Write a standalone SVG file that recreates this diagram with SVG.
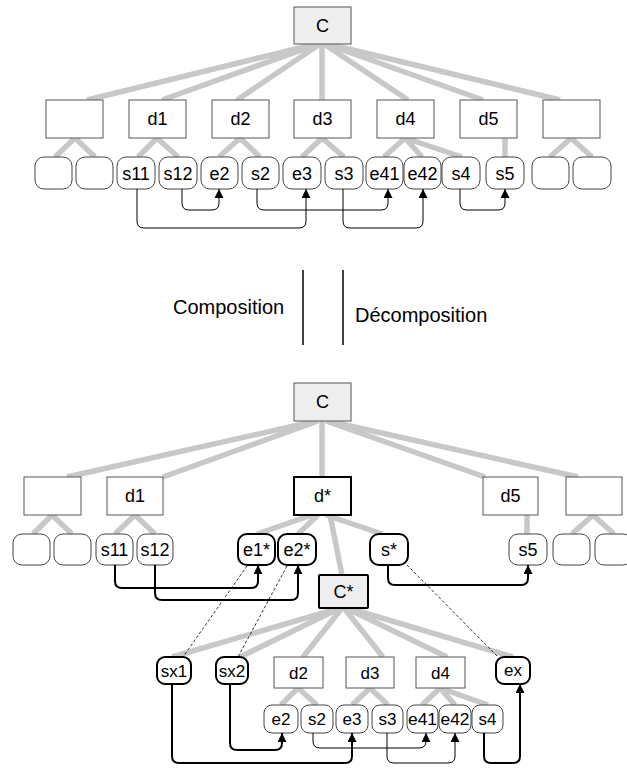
<svg xmlns="http://www.w3.org/2000/svg" width="627" height="768" viewBox="0 0 627 768">
<style>
.bg{fill:#ffffff}
.tree{stroke:#c8c8c8;stroke-width:5.5;fill:none;stroke-linecap:butt}
.box{fill:#ffffff;stroke:#555555;stroke-width:1}
.boxc{fill:#eeeeee;stroke:#555555;stroke-width:1}
.boxt{fill:#ffffff;stroke:#000000;stroke-width:2}
.boxct{fill:#eeeeee;stroke:#000000;stroke-width:2}
.port{fill:#ffffff;stroke:#444444;stroke-width:1}
.portt{fill:#ffffff;stroke:#000000;stroke-width:2}
.t{font-family:"Liberation Sans",Arial,sans-serif;font-size:18px;fill:#000;text-anchor:middle}
.ts{font-family:"Liberation Sans",Arial,sans-serif;font-size:17px;fill:#000;text-anchor:middle}
.lbl{font-family:"Liberation Sans",Arial,sans-serif;font-size:20px;fill:#000}
.c1{fill:none;stroke:#000;stroke-width:1}
.c2{fill:none;stroke:#000;stroke-width:2}
.dash{fill:none;stroke:#000;stroke-width:0.8;stroke-dasharray:3,2}
.sep{stroke:#000;stroke-width:1.5}
</style>
<defs>
<marker id="ah" markerWidth="9" markerHeight="10" refX="9" refY="4.5" orient="auto" markerUnits="userSpaceOnUse"><path d="M0,0 L9,4.5 L0,9 z" fill="#000"/></marker>
</defs>
<rect class="bg" x="0" y="0" width="627" height="768"/>

<!-- tree edges -->
<g id="tree-edges">
<path class="tree" d="M316,44 L87,100 M318,44 L162,100 M320,44 L237,100 M322,44 L322,100 M324,44 L408,100 M326,44 L483,100 M328,44 L560,100"/>
<path class="tree" d="M75,138 L55,157 M75,138 L95,157 M157,138 L138,157 M157,138 L178,157 M240,138 L219,157 M240,138 L260,157 M322,138 L302,157 M322,138 L344,157 M405,138 L384,157 M405,138 L422,157 M405,138 L462,157 M505,138 L505,157 M571,138 L550,157 M571,138 L592,157"/>
<path class="tree" d="M316,421 L67,477 M318,421 L163,477 M322,421 L322,477 M326,421 L485,477 M328,421 L578,477"/>
<path class="tree" d="M52,515 L33,534 M52,515 L72,534 M135,515 L115,534 M135,515 L155,534 M312,515 L257,534 M318,515 L298,534 M326,515 L382,534 M330,515 L342,575 M527,515 L527,534 M593,515 L572,534 M593,515 L614,534"/>
<path class="tree" d="M340,608 L172,657 M340,608 L240,657 M342,608 L303,657 M344,608 L383,657 M346,608 L447,657 M348,608 L513,657"/>
<path class="tree" d="M298,688 L281,705 M298,688 L317,705 M370,688 L352,705 M370,688 L388,705 M440,688 L422,705 M440,688 L455,705 M440,688 L488,705"/>
</g>

<!-- top diagram nodes -->
<g id="C-top"><rect class="boxc" x="294" y="7" width="57" height="37"/><text class="t" x="322.5" y="32">C</text></g>
<g id="b0-top"><rect class="box" x="46" y="100" width="57" height="38"/></g>
<g id="d1-top"><rect class="box" x="129" y="100" width="57" height="38"/><text class="t" x="157.5" y="125">d1</text></g>
<g id="d2-top"><rect class="box" x="212" y="100" width="57" height="38"/><text class="t" x="240.5" y="125">d2</text></g>
<g id="d3-top"><rect class="box" x="294" y="100" width="57" height="38"/><text class="t" x="322.5" y="125">d3</text></g>
<g id="d4-top"><rect class="box" x="377" y="100" width="57" height="38"/><text class="t" x="405.5" y="125">d4</text></g>
<g id="d5-top"><rect class="box" x="460" y="100" width="57" height="38"/><text class="t" x="488.5" y="125">d5</text></g>
<g id="b6-top"><rect class="box" x="543" y="100" width="57" height="38"/></g>

<g id="p0-top"><rect class="port" x="35" y="157" width="37" height="32" rx="9"/></g>
<g id="p1-top"><rect class="port" x="76" y="157" width="37" height="32" rx="9"/></g>
<g id="s11-top"><rect class="port" x="117" y="157" width="38" height="32" rx="9"/><text class="t" x="136" y="179.5">s11</text></g>
<g id="s12-top"><rect class="port" x="159" y="157" width="38" height="32" rx="9"/><text class="t" x="178" y="179.5">s12</text></g>
<g id="e2-top"><rect class="port" x="201" y="157" width="37" height="32" rx="9"/><text class="t" x="219.5" y="179.5">e2</text></g>
<g id="s2-top"><rect class="port" x="242" y="157" width="37" height="32" rx="9"/><text class="t" x="260.5" y="179.5">s2</text></g>
<g id="e3-top"><rect class="port" x="283" y="157" width="38" height="32" rx="9"/><text class="t" x="302" y="179.5">e3</text></g>
<g id="s3-top"><rect class="port" x="325" y="157" width="38" height="32" rx="9"/><text class="t" x="344" y="179.5">s3</text></g>
<g id="e41-top"><rect class="port" x="366" y="157" width="37" height="32" rx="9"/><text class="t" x="384.5" y="179.5">e41</text></g>
<g id="e42-top"><rect class="port" x="404" y="157" width="37" height="32" rx="9"/><text class="t" x="422.5" y="179.5">e42</text></g>
<g id="s4-top"><rect class="port" x="442" y="157" width="38" height="32" rx="9"/><text class="t" x="461" y="179.5">s4</text></g>
<g id="s5-top"><rect class="port" x="486" y="157" width="38" height="32" rx="9"/><text class="t" x="505" y="179.5">s5</text></g>
<g id="p12-top"><rect class="port" x="532" y="157" width="37" height="32" rx="9"/></g>
<g id="p13-top"><rect class="port" x="573" y="157" width="38" height="32" rx="9"/></g>

<!-- middle labels -->
<g id="labels">
<text class="lbl" x="173" y="314">Composition</text>
<text class="lbl" x="355" y="322">Décomposition</text>
<line class="sep" x1="303" y1="270" x2="303" y2="345"/>
<line class="sep" x1="343" y1="270" x2="343" y2="345"/>
</g>

<!-- bottom diagram nodes -->
<g id="C-bot"><rect class="boxc" x="294" y="383" width="57" height="38"/><text class="t" x="322.5" y="408">C</text></g>
<g id="b0-bot"><rect class="box" x="24" y="477" width="57" height="38"/></g>
<g id="d1-bot"><rect class="box" x="107" y="477" width="56" height="38"/><text class="t" x="135" y="502">d1</text></g>
<g id="dstar"><rect class="boxt" x="294" y="477" width="57" height="38"/><text class="t" x="322.5" y="502">d*</text></g>
<g id="d5-bot"><rect class="box" x="483" y="477" width="55" height="38"/><text class="t" x="510.5" y="502">d5</text></g>
<g id="b6-bot"><rect class="box" x="566" y="477" width="56" height="38"/></g>

<g id="p0-bot"><rect class="port" x="13" y="534" width="37" height="31" rx="9"/></g>
<g id="p1-bot"><rect class="port" x="54" y="534" width="37" height="31" rx="9"/></g>
<g id="s11-bot"><rect class="port" x="96" y="534" width="37" height="31" rx="9"/><text class="t" x="114.5" y="556">s11</text></g>
<g id="s12-bot"><rect class="port" x="137" y="534" width="36" height="31" rx="9"/><text class="t" x="155" y="556">s12</text></g>
<g id="e1star"><rect class="portt" x="238" y="534" width="37" height="31" rx="9"/><text class="t" x="256.5" y="556">e1*</text></g>
<g id="e2star"><rect class="portt" x="278" y="534" width="38" height="31" rx="9"/><text class="t" x="297" y="556">e2*</text></g>
<g id="sstar"><rect class="portt" x="370" y="534" width="38" height="31" rx="9"/><text class="t" x="389" y="556">s*</text></g>
<g id="s5-bot"><rect class="port" x="509" y="534" width="38" height="31" rx="9"/><text class="t" x="528" y="556">s5</text></g>
<g id="p12-bot"><rect class="port" x="553" y="534" width="37" height="31" rx="9"/></g>
<g id="p13-bot"><rect class="port" x="595" y="534" width="37" height="31" rx="9"/></g>

<g id="Cstar"><rect class="boxct" x="319" y="575" width="49" height="33" rx="1"/><text class="t" x="343.5" y="598">C*</text></g>
<g id="sx1"><rect class="portt" x="157" y="657" width="34" height="27" rx="8"/><text class="ts" x="174" y="676.5">sx1</text></g>
<g id="sx2"><rect class="portt" x="216" y="657" width="32" height="27" rx="8"/><text class="ts" x="232" y="676.5">sx2</text></g>
<g id="d2-bot"><rect class="box" x="274" y="657" width="49" height="31"/><text class="ts" x="298.5" y="678.5">d2</text></g>
<g id="d3-bot"><rect class="box" x="346" y="657" width="48" height="31"/><text class="ts" x="370" y="678.5">d3</text></g>
<g id="d4-bot"><rect class="box" x="416" y="657" width="49" height="31"/><text class="ts" x="440.5" y="678.5">d4</text></g>
<g id="ex"><rect class="portt" x="496" y="657" width="34" height="27" rx="8"/><text class="ts" x="513" y="676">ex</text></g>

<g id="e2-bot"><rect class="port" x="264" y="705" width="34" height="28" rx="8"/><text class="ts" x="281" y="725">e2</text></g>
<g id="s2-bot"><rect class="port" x="301" y="705" width="32" height="28" rx="8"/><text class="ts" x="317" y="725">s2</text></g>
<g id="e3-bot"><rect class="port" x="336" y="705" width="32" height="28" rx="8"/><text class="ts" x="352" y="725">e3</text></g>
<g id="s3-bot"><rect class="port" x="372" y="705" width="31" height="28" rx="8"/><text class="ts" x="387.5" y="725">s3</text></g>
<g id="e41-bot"><rect class="port" x="407" y="705" width="31" height="28" rx="8"/><text class="ts" x="422.5" y="725" textLength="29" lengthAdjust="spacingAndGlyphs">e41</text></g>
<g id="e42-bot"><rect class="port" x="439" y="705" width="32" height="28" rx="8"/><text class="ts" x="455" y="725" textLength="29" lengthAdjust="spacingAndGlyphs">e42</text></g>
<g id="s4-bot"><rect class="port" x="472" y="705" width="31" height="28" rx="8"/><text class="ts" x="487.5" y="725">s4</text></g>

<!-- connectors -->
<g id="connectors">
<path class="c1" marker-end="url(#ah)" d="M137,189 V221 Q137,228 144,228 H299 Q306,228 306,221 V189"/>
<path class="c1" marker-end="url(#ah)" d="M182,189 V203 Q182,210 189,210 H212 Q219,210 219,203 V189"/>
<path class="c1" marker-end="url(#ah)" d="M257,189 V203 Q257,210 264,210 H381 Q388,210 388,203 V189"/>
<path class="c1" marker-end="url(#ah)" d="M343,189 V221 Q343,228 350,228 H416 Q423,228 423,221 V189"/>
<path class="c1" marker-end="url(#ah)" d="M460,189 V203 Q460,210 467,210 H498 Q505,210 505,203 V189"/>

<path class="c2" marker-end="url(#ah)" d="M115,565 V581 Q115,588 122,588 H251 Q258,588 258,581 V565"/>
<path class="c2" marker-end="url(#ah)" d="M155,565 V593 Q155,600 162,600 H291 Q298,600 298,593 V565"/>
<path class="c2" marker-end="url(#ah)" d="M388,565 V578 Q388,585 395,585 H521 Q528,585 528,578 V565"/>

<path class="dash" d="M247,566 L183,657"/>
<path class="dash" d="M287,566 L238,657"/>
<path class="dash" d="M407,565 L497,656"/>

<path class="c2" marker-end="url(#ah)" d="M172,684 V756 Q172,763 179,763 H345 Q352,763 352,756 V733"/>
<path class="c2" marker-end="url(#ah)" d="M230,684 V743 Q230,750 237,750 H275 Q282,750 282,743 V733"/>
<path class="c1" marker-end="url(#ah)" d="M313,733 V741 Q313,748 320,748 H419 Q426,748 426,741 V733"/>
<path class="c1" marker-end="url(#ah)" d="M387,733 V756 Q387,763 394,763 H448 Q455,763 455,756 V733"/>
<path class="c2" marker-end="url(#ah)" d="M484,733 V756 Q484,763 491,763 H513 Q520,763 520,756 V684"/>
</g>
</svg>
